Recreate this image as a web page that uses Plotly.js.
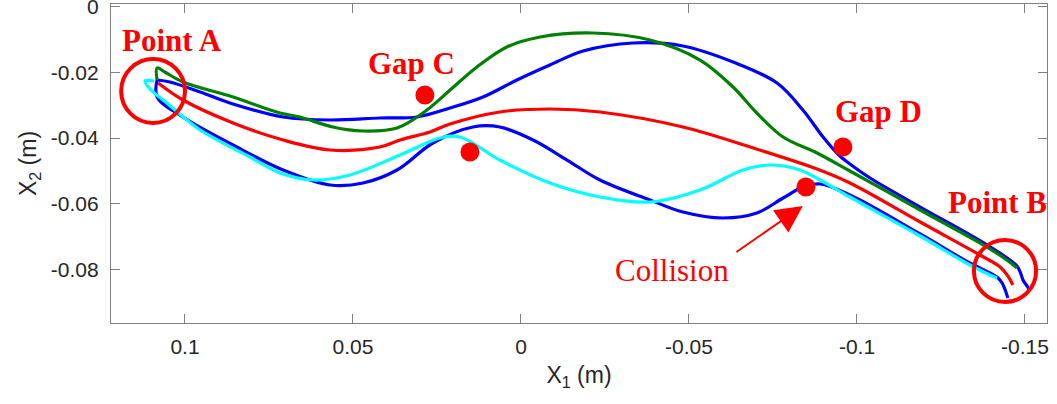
<!DOCTYPE html>
<html>
<head>
<meta charset="utf-8">
<script src="https://cdn.plot.ly/plotly-3.0.1.min.js"></script>
<style>html,body{margin:0;padding:0;background:#fff;}#chart{width:1057px;height:404px;}</style>
</head>
<body>
<div id="chart"></div>
<script>
// Upper blue trajectory
const blueUpperX = [0.1083,0.1045,0.0955,0.0857,0.0708,0.0568,0.0420,0.0310,0.0211,0.0113,0.0012,-0.0086,-0.0185,-0.0333,-0.0482,-0.0631,-0.0762,-0.0839,-0.0899,-0.0949,-0.0979,-0.1039,-0.1188,-0.1387,-0.1476,-0.1488,-0.1494,-0.1506,-0.1512];
const blueUpperY = [-0.02234,-0.02295,-0.02600,-0.02965,-0.03361,-0.03452,-0.03391,-0.03361,-0.03087,-0.02752,-0.02234,-0.01778,-0.01352,-0.01108,-0.01199,-0.01686,-0.02326,-0.03148,-0.03970,-0.04548,-0.04791,-0.05218,-0.06101,-0.07257,-0.07896,-0.08140,-0.08322,-0.08505,-0.08596];
// Lower blue trajectory (collision)
const blueLowerX = [0.1083,0.1083,0.1006,0.0857,0.0708,0.0568,0.0470,0.0369,0.0262,0.0143,0.0063,-0.0036,-0.0137,-0.0235,-0.0384,-0.0482,-0.0601,-0.0702,-0.0780,-0.0839,-0.0890,-0.0979,-0.1188,-0.1336,-0.1396,-0.1420,-0.1432,-0.1440,-0.1449];
const blueLowerY = [-0.02234,-0.02752,-0.03361,-0.04213,-0.04974,-0.05431,-0.05370,-0.04974,-0.04152,-0.03665,-0.03665,-0.04061,-0.04670,-0.05279,-0.05887,-0.06253,-0.06435,-0.06283,-0.05826,-0.05492,-0.05400,-0.05735,-0.06922,-0.07805,-0.08109,-0.08261,-0.08414,-0.08596,-0.08870];
// Red trajectory
const redX = [0.1080,0.1006,0.0857,0.0708,0.0568,0.0420,0.0360,0.0271,0.0211,0.0063,-0.0086,-0.0235,-0.0482,-0.0682,-0.0881,-0.0979,-0.1188,-0.1366,-0.1426,-0.1449,-0.1464];
const redY = [-0.02326,-0.02843,-0.03543,-0.04061,-0.04365,-0.04274,-0.04061,-0.03817,-0.03574,-0.03209,-0.03117,-0.03209,-0.03665,-0.04274,-0.04944,-0.05370,-0.06557,-0.07561,-0.07927,-0.08201,-0.08475];
// Green trajectory
const greenX = [0.1083,0.1083,0.1060,0.1006,0.0857,0.0717,0.0658,0.0560,0.0470,0.0369,0.0280,0.0211,0.0131,0.0042,-0.0057,-0.0214,-0.0384,-0.0533,-0.0631,-0.0702,-0.0780,-0.0881,-0.0979,-0.1188,-0.1387,-0.1446,-0.1476];
const greenY = [-0.02234,-0.01869,-0.01991,-0.02295,-0.02752,-0.03239,-0.03361,-0.03665,-0.03787,-0.03696,-0.03148,-0.02539,-0.01839,-0.01230,-0.00925,-0.00804,-0.01017,-0.01626,-0.02447,-0.03239,-0.03970,-0.04457,-0.05004,-0.06192,-0.07318,-0.07714,-0.07957];
// Cyan trajectory
const cyanX = [0.1092,0.1119,0.1104,0.1054,0.0955,0.0807,0.0717,0.0619,0.0509,0.0360,0.0241,0.0182,0.0063,-0.0086,-0.0235,-0.0384,-0.0533,-0.0661,-0.0741,-0.0830,-0.0890,-0.0979,-0.1188,-0.1336,-0.1396,-0.1417];
const cyanY = [-0.02265,-0.02265,-0.02508,-0.02935,-0.03757,-0.04578,-0.05065,-0.05279,-0.05126,-0.04518,-0.04000,-0.03970,-0.04670,-0.05370,-0.05796,-0.05948,-0.05583,-0.04974,-0.04822,-0.04974,-0.05279,-0.05796,-0.06983,-0.07866,-0.08170,-0.08261];
// Obstacle points (gaps C, D and collision)
const obstacleX = [0.0286,0.0152,-0.0958,-0.0848];
const obstacleY = [-0.02691,-0.04426,-0.04274,-0.05492];
// Tick labels
const xTickVals = [0.1,0.05,0,-0.05,-0.1,-0.15];
const xTickText = ['0.1','0.05','0','-0.05','-0.1','-0.15'];
const yTickVals = [0,-0.02,-0.04,-0.06,-0.08];
const yTickText = ['0','-0.02','-0.04','-0.06','-0.08'];

const lw = 3.2;
const line = (x,y,color) => ({x:x,y:y,type:'scatter',mode:'lines',line:{color:color,width:lw,shape:'spline',smoothing:1.0},hoverinfo:'skip',showlegend:false});
const traces = [
  line(blueUpperX,blueUpperY,'#0000ff'),
  line(blueLowerX,blueLowerY,'#0000ff'),
  line(redX,redY,'#ff0000'),
  line(greenX,greenY,'#008000'),
  line(cyanX,cyanY,'#00ffff'),
  {x:obstacleX,y:obstacleY,type:'scatter',mode:'markers',marker:{color:'#ff0000',size:19},showlegend:false,hoverinfo:'skip'}
];

const serif = 'Liberation Serif, Times New Roman, serif';
const sans = 'Liberation Sans, Arial, sans-serif';
const lbl = (text,x,y,bold) => ({text:text,x:x,y:y,xref:'x',yref:'y',showarrow:false,xanchor:'center',yanchor:'middle',font:{family:serif,size:31,color:'#ff0000',weight:bold?'bold':'normal'}});

const layout = {
  width:1057, height:404,
  margin:{l:111,r:10,t:4,b:81,pad:0},
  paper_bgcolor:'#ffffff', plot_bgcolor:'#ffffff',
  xaxis:{
    range:[0.12202,-0.15655], tickvals:xTickVals, ticktext:xTickText,
    ticks:'inside', ticklen:9, tickwidth:1, tickcolor:'#808080',
    showline:true, linecolor:'#808080', linewidth:1.2, mirror:'ticks',
    showgrid:false, zeroline:false, ticklabelstandoff:5, ticklabeloverflow:'allow',
    tickfont:{family:sans,size:21,color:'#262626'},
    title:{text:'X<sub>1</sub> (m)', font:{family:sans,size:23,color:'#262626'}, standoff:9}
  },
  yaxis:{
    range:[-0.09631,0.00079], tickvals:yTickVals, ticktext:yTickText,
    ticks:'inside', ticklen:9, tickwidth:1, tickcolor:'#808080',
    showline:true, linecolor:'#808080', linewidth:1.2, mirror:'ticks',
    showgrid:false, zeroline:false, ticklabelstandoff:7, ticklabeloverflow:'allow',
    tickfont:{family:sans,size:21,color:'#262626'},
    title:{text:'X<sub>2</sub> (m)', font:{family:sans,size:23,color:'#262626'}, standoff:7}
  },
  shapes:[
    {type:'circle',xref:'x',yref:'y',x0:0.1190,x1:0.1000,y0:-0.01595,y1:-0.03543,line:{color:'#ff0000',width:4}},
    {type:'circle',xref:'x',yref:'y',x0:-0.1348,x1:-0.1533,y0:-0.07105,y1:-0.08992,line:{color:'#ff0000',width:4}}
  ],
  annotations:[
    lbl('Point A',0.1039,-0.01017,true),
    lbl('Gap C',0.0327,-0.01747,true),
    lbl('Gap D',-0.1065,-0.03208,true),
    lbl('Point B',-0.1417,-0.05948,true),
    lbl('Collision',-0.0449,-0.0802,false),
    {x:-0.0839,y:-0.0607,xref:'x',yref:'y',ax:-68,ay:47,text:'',showarrow:true,arrowhead:2,arrowsize:2.7,arrowwidth:2,arrowcolor:'#ff0000',standoff:0}
  ]
};
Plotly.newPlot('chart',traces,layout,{displayModeBar:false,staticPlot:true});
</script>
</body>
</html>
